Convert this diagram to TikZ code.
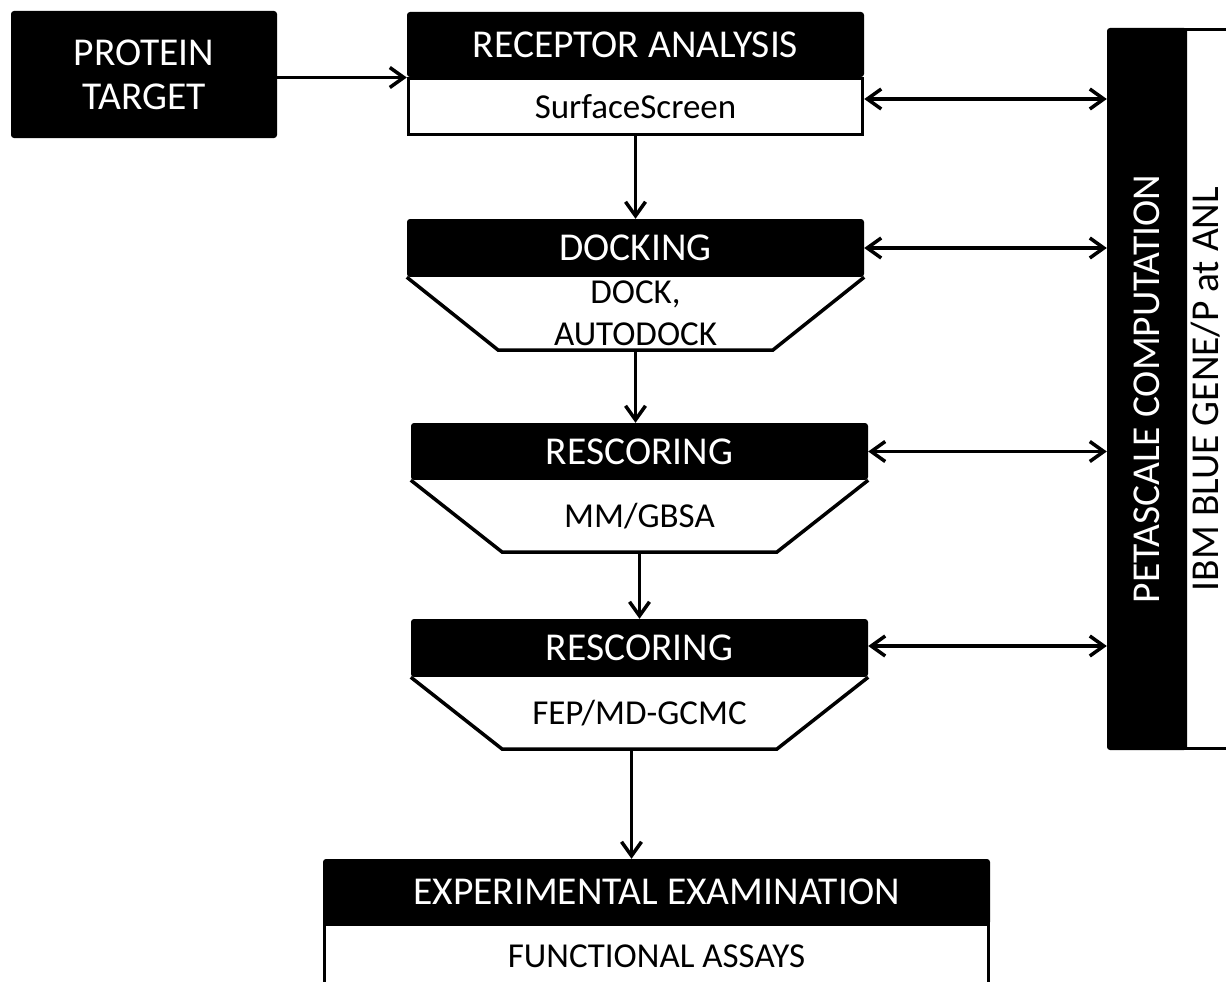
\documentclass[tikz,border=0pt]{standalone}
\usepackage{fontspec}
\setmainfont{Carlito}
\usetikzlibrary{arrows.meta,calc}
\begin{document}
\begin{tikzpicture}[x=1pt,y=-1pt,
  hdr/.style={fill=black,text=white,rounded corners=3pt,inner sep=0pt,align=center,font=\fontsize{39.5}{44}\selectfont},
  subtxt/.style={inner sep=0pt,align=center,font=\fontsize{35}{42}\selectfont},
  bodybox/.style={subtxt,draw=black,fill=white,line width=3.5pt},
  ln/.style={line width=3.5pt,line join=miter},
  arr/.style={line width=3.5pt,-{Straight Barb[length=14pt,width=20pt]}},
  biarr/.style={line width=3.5pt,{Straight Barb[length=14pt,width=20pt]}-{Straight Barb[length=14pt,width=20pt]}},
  vtxt/.style={rotate=90,inner sep=0pt,font=\fontsize{39.5}{44}\selectfont}
]
\useasboundingbox (0,0) rectangle (1226,982);

% protein target
\node[hdr,minimum width=266pt,minimum height=127pt] (pt) at (144,74.5) {PROTEIN\\TARGET};

% receptor analysis
\node[bodybox,minimum width=454pt,minimum height=56pt] (b1) at (635.5,106.5) {SurfaceScreen};
\node[hdr,minimum width=457pt,minimum height=65pt] (h1) at (635.5,44.5) {RECEPTOR ANALYSIS};

% docking
\node[hdr,minimum width=457pt,minimum height=58pt] (h2) at (635.5,248) {DOCKING};
\draw[ln,fill=white] (h2.south west) -- ++(91.5,73) -- ($(h2.south east)+(-91.5,73)$) -- (h2.south east);
\node[subtxt,minimum width=274pt,minimum height=73pt] (b2) at (635.5,313.5) {DOCK,\\AUTODOCK};

% rescoring 1
\node[hdr,minimum width=457pt,minimum height=57pt] (h3) at (639.5,451.5) {RESCORING};
\draw[ln,fill=white] (h3.south west) -- ++(91.5,72) -- ($(h3.south east)+(-91.5,72)$) -- (h3.south east);
\node[subtxt,minimum width=274pt,minimum height=72pt] (b3) at (639.5,516) {MM/GBSA};

% rescoring 2
\node[hdr,minimum width=457pt,minimum height=58pt] (h4) at (639.5,648) {RESCORING};
\draw[ln,fill=white] (h4.south west) -- ++(91.5,72) -- ($(h4.south east)+(-91.5,72)$) -- (h4.south east);
\node[subtxt,minimum width=274pt,minimum height=72pt] (b4) at (639.5,713) {FEP/MD-GCMC};

% experimental examination
\node[bodybox,minimum width=664pt,minimum height=64pt] (exb) at (656.5,956) {FUNCTIONAL ASSAYS};
\node[hdr,minimum width=667pt,minimum height=66pt] (ex) at (656.5,892) {EXPERIMENTAL EXAMINATION};

% petascale computation
\node[draw=black,fill=white,line width=3.5pt,minimum width=60pt,minimum height=719pt,inner sep=0pt] (ib) at (1215,389) {};
\node[fill=black,rounded corners=3pt,minimum width=80pt,minimum height=722pt,inner sep=0pt] (pc) at (1147,389) {};
\node[vtxt,text=white] (pctxt) at (pc.center) {PETASCALE COMPUTATION};
\node[vtxt] (ibtxt) at (1205.5,389) {IBM BLUE GENE/P at ANL};

% connectors
\draw[arr] ([yshift=-3pt]pt.east) -- ([yshift=-3pt]pt.east -| h1.west);
\draw[arr] (b1.south) -- (h2.north);
\draw[arr] (b2.south) -- (b2.south |- h3.north);
\draw[arr] (b3.south) -- (h4.north);
\draw[arr] ([xshift=-8pt]b4.south) -- ([xshift=-8pt]b4.south |- ex.north);

\draw[biarr] ([yshift=7.5pt]b1.east) -- ([yshift=7.5pt]b1.east -| pc.west);
\draw[biarr] (h2.east) -- (h2.east -| pc.west);
\draw[biarr] (h3.east) -- (h3.east -| pc.west);
\draw[biarr] ([yshift=2pt]h4.east) -- ([yshift=2pt]h4.east -| pc.west);
\end{tikzpicture}
\end{document}
